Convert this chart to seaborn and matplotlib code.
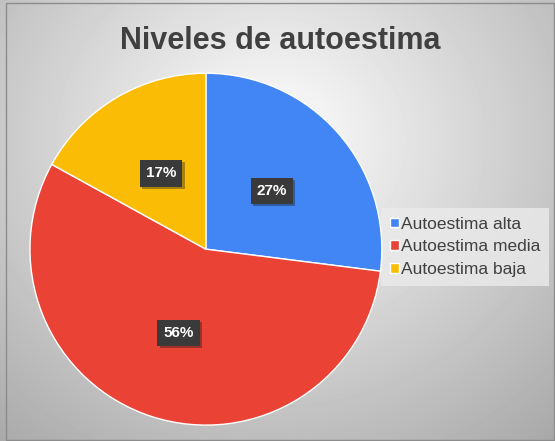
import numpy as np
import seaborn as sns
import matplotlib.pyplot as plt
import matplotlib.patheffects as pe
from matplotlib.patches import Rectangle

sns.set_style("white")
plt.rcParams['font.family'] = ['Liberation Sans', 'DejaVu Sans']

# data
categories = ['Autoestima alta', 'Autoestima media', 'Autoestima baja']
values = [27, 56, 17]
colors = ['#4285F4', '#EA4335', '#FBBC05']

fig = plt.figure(figsize=(5.55, 4.41), dpi=100)

# radial grey background
bg = fig.add_axes([0, 0, 1, 1], zorder=0)
yy, xx = np.mgrid[0:441, 0:555]
d = np.sqrt(((xx - 270) / 420.0) ** 2 + ((yy - 140) / 380.0) ** 2)
shade = np.clip(1.0 - 0.33 * d, 0, 1)
bg.imshow(shade, cmap='gray', vmin=0, vmax=1, extent=[0, 555, 441, 0], aspect='auto')
bg.add_patch(Rectangle((6, 3), 548, 437, fill=False, ec='#8c8c8c', lw=1))
bg.set_xlim(0, 555)
bg.set_ylim(441, 0)
bg.axis('off')

fig.text(0.505, 0.907, 'Niveles de autoestima', ha='center', va='center',
         fontsize=22, fontweight='bold', color='#404040')

ax = fig.add_axes([0.054, 0.036, 0.634, 0.798], zorder=1)
wedges, texts, autotexts = ax.pie(values, colors=colors, startangle=90, counterclock=False,
                                  autopct='%d%%', pctdistance=0.5,
                                  textprops=dict(color='white', fontsize=11, fontweight='bold'))
for t in autotexts:
    t.set_bbox(dict(boxstyle='square,pad=0.4', fc='#3a3a3a', ec='none'))
    t.get_bbox_patch().set_path_effects([pe.withSimplePatchShadow(offset=(1.5, -1.5), alpha=0.35)])
ax.set_xlim(-1, 1)
ax.set_ylim(-1, 1)
ax.set_aspect('equal')

leg = fig.legend(wedges, categories, loc='center left', bbox_to_anchor=(0.687, 0.44),
                 frameon=True, fontsize=12.5, handlelength=0.5, handleheight=0.5,
                 handletextpad=0.15, labelspacing=0.45, borderpad=0.5, borderaxespad=0,
                 fancybox=False)
leg.set_zorder(0.5)
leg.get_frame().set_facecolor('#ebebeb')
leg.get_frame().set_edgecolor('none')
leg.get_frame().set_alpha(0.8)
for text in leg.get_texts():
    text.set_color('#404040')

plt.savefig('out.png', dpi=100)
